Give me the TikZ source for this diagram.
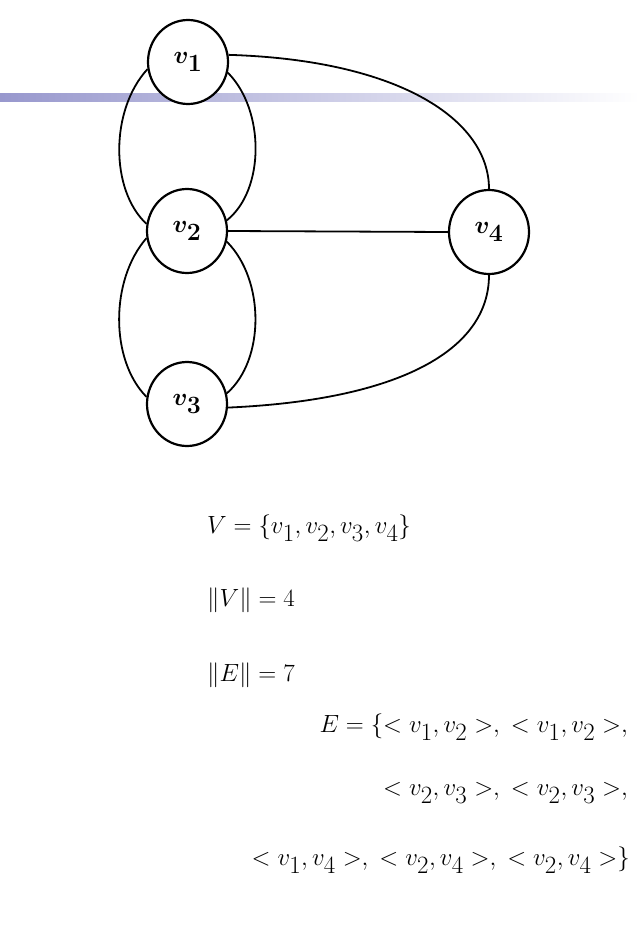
\documentclass[tikz,border=0pt]{standalone}
\usepackage{amsmath}
\usetikzlibrary{fadings,shapes.geometric}
\begin{document}
\begin{tikzpicture}[x=1pt,y=-1pt,
  vert/.style={draw,line width=2.2pt,ellipse,minimum width=80pt,minimum height=84pt,inner sep=0pt,font=\fontsize{40}{46}\selectfont},
  edge/.style={line width=1.8pt},
  txt/.style={inner sep=0pt,font=\fontsize{40}{46}\selectfont}]
\useasboundingbox (0,0) rectangle (643,934);
\fill[left color=blue!35!gray!60, right color=white] (0,93) rectangle (640,101);
\node[vert,fill=white] (v1) at (188,62) {$\boldsymbol{v_1}$};
\node[vert] (v2) at (187,231) {$\boldsymbol{v_2}$};
\node[vert] (v3) at (187,404) {$\boldsymbol{v_3}$};
\node[vert] (v4) at (489,232) {$\boldsymbol{v_4}$};
\draw[edge] (v1.190) .. controls (110,110) and (110,190) .. (v2.170);
\draw[edge] (v1.-15) .. controls (265,110) and (265,190) .. (v2.15);
\draw[edge] (v2.190) .. controls (110,280) and (110,360) .. (v3.170);
\draw[edge] (v2.-15) .. controls (265,280) and (265,360) .. (v3.15);
\draw[edge] (v1.10) .. controls (400,60) and (489,120) .. (v4.north);
\draw[edge] (v2.east) -- (v4.west);
\draw[edge] (v3.-5) .. controls (400,400) and (489,350) .. (v4.south);
\node[txt,anchor=west] (t1) at (207,528) {$V=\{v_1,v_2,v_3,v_4\}$};
\node[txt,anchor=west] (t2) at (207,600) {$\lVert V\rVert=4$};
\node[txt,anchor=west] (t3) at (207,675) {$\lVert E\rVert=7$};
\node[txt,anchor=east] (t4) at (628,727) {$E=\{<v_1,v_2>,\;<v_1,v_2>,$};
\node[txt,anchor=east] (t5) at (628,793) {$<v_2,v_3>,\;<v_2,v_3>,$};
\node[txt,anchor=east] (t6) at (630,860) {$<v_1,v_4>,\;<v_2,v_4>,\;<v_2,v_4>\}$};
\end{tikzpicture}
\end{document}
